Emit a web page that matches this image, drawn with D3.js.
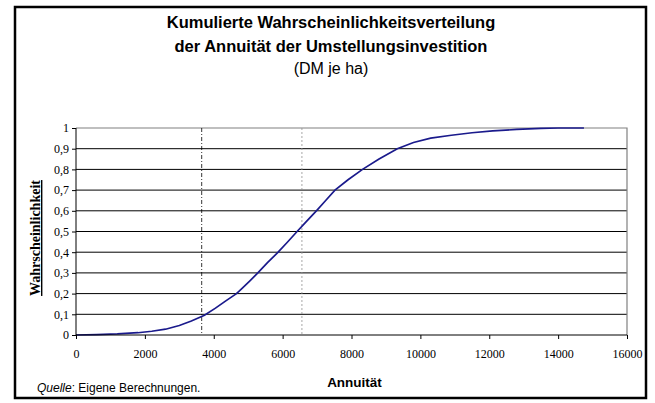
<!DOCTYPE html>
<html>
<head>
<meta charset="utf-8">
<script src="https://cdn.jsdelivr.net/npm/d3@7"></script>
<style>
  body { margin: 0; background: #fff; }
  text { fill: #000; }
</style>
</head>
<body>
<svg width="655" height="403"></svg>
<script>
var annuitaet = [0, 600, 1200, 1800, 2200, 2600, 3000, 3350, 3730, 4050, 4350, 4660, 4800, 5050, 5280,
  5560, 5870, 6130, 6420, 6700, 6980, 7250, 7520, 7900, 8320, 8800, 9330, 9800, 10300, 10900,
  11500, 12100, 12800, 13500, 14000, 14750];
var wahrscheinlichkeit = [0, 0.002, 0.005, 0.011, 0.018, 0.028, 0.046, 0.068, 0.095, 0.13, 0.165, 0.2, 0.222, 0.262, 0.3,
  0.35, 0.4, 0.447, 0.5, 0.55, 0.6, 0.65, 0.7, 0.75, 0.8, 0.85, 0.9, 0.93, 0.951, 0.965,
  0.977, 0.986, 0.993, 0.998, 1.0, 1.0];
var xTickValues = [0, 2000, 4000, 6000, 8000, 10000, 12000, 14000, 16000];
var yTickValues = [0, 0.1, 0.2, 0.3, 0.4, 0.5, 0.6, 0.7, 0.8, 0.9, 1];
var yTickLabels = ["0", "0,1", "0,2", "0,3", "0,4", "0,5", "0,6", "0,7", "0,8", "0,9", "1"];
var markerLines = [3650, 6560];

var svg = d3.select("svg");

var x = d3.scaleLinear().domain([0, 16000]).range([76, 627]);
var y = d3.scaleLinear().domain([0, 1]).range([335, 128]);

// outer frame
svg.append("rect")
    .attr("x", 15).attr("y", 7)
    .attr("width", 631).attr("height", 391)
    .attr("fill", "#fff")
    .attr("stroke", "#000")
    .attr("stroke-width", 2.5);

var title = svg.append("text")
    .attr("text-anchor", "middle")
    .attr("font-family", "Liberation Sans, Arial, sans-serif")
    .attr("font-size", 16.5);
title.append("tspan").attr("x", 331).attr("y", 28).attr("font-weight", "bold")
    .text("Kumulierte Wahrscheinlichkeitsverteilung");
title.append("tspan").attr("x", 331).attr("y", 52).attr("font-weight", "bold")
    .text("der Annuität der Umstellungsinvestition");
title.append("tspan").attr("x", 331).attr("y", 74).attr("font-size", 16)
    .text("(DM je ha)");

// grid
svg.append("g")
    .selectAll("line")
    .data(yTickValues.slice(1, -1))
    .enter().append("line")
      .attr("x1", x(0)).attr("x2", x(16000))
      .attr("y1", function(d) { return y(d); })
      .attr("y2", function(d) { return y(d); })
      .attr("stroke", "#000")
      .attr("stroke-width", 1);

// plot area border top / right
svg.append("path")
    .attr("d", "M" + x(0) + "," + y(1) + "H" + x(16000) + "V" + y(0))
    .attr("fill", "none")
    .attr("stroke", "#808080")
    .attr("stroke-width", 1.2);

svg.append("line")
    .attr("x1", x(markerLines[0])).attr("x2", x(markerLines[0]))
    .attr("y1", y(1)).attr("y2", y(0))
    .attr("stroke", "#000")
    .attr("stroke-width", 0.8)
    .attr("stroke-dasharray", "4,2,1,2");

svg.append("line")
    .attr("x1", x(markerLines[1])).attr("x2", x(markerLines[1]))
    .attr("y1", y(1)).attr("y2", y(0))
    .attr("stroke", "#909090")
    .attr("stroke-width", 0.8)
    .attr("stroke-dasharray", "2,2");

var line = d3.line()
    .x(function(d, i) { return x(annuitaet[i]); })
    .y(function(d) { return y(d); });

svg.append("path")
    .datum(wahrscheinlichkeit)
    .attr("fill", "none")
    .attr("stroke", "#1a1a8c")
    .attr("stroke-width", 1.7)
    .attr("d", line);

var xAxis = svg.append("g")
    .attr("transform", "translate(0," + y(0) + ")")
    .call(d3.axisBottom(x).tickValues(xTickValues).tickSize(4).tickPadding(10).tickFormat(d3.format("d")));
xAxis.select(".domain").attr("stroke", "#000").attr("d", "M" + x(0) + ",0H" + x(16000));
xAxis.selectAll("text")
    .attr("font-family", "Liberation Serif, Times New Roman, serif")
    .attr("font-size", 12);

var yAxis = svg.append("g")
    .attr("transform", "translate(" + x(0) + ",0)")
    .call(d3.axisLeft(y).tickValues(yTickValues).tickSize(4).tickPadding(3)
      .tickFormat(function(d, i) { return yTickLabels[i]; }));
yAxis.select(".domain").attr("stroke", "#000").attr("d", "M0," + y(0) + "V" + y(1));
yAxis.selectAll("text")
    .attr("font-family", "Liberation Serif, Times New Roman, serif")
    .attr("font-size", 12);

svg.append("text")
    .attr("transform", "translate(40,238) rotate(-90)")
    .attr("text-anchor", "middle")
    .attr("font-family", "Liberation Serif, Times New Roman, serif")
    .attr("font-weight", "bold")
    .attr("font-size", 14)
    .attr("text-decoration", "underline")
    .text("Wahrscheinlichkeit");

svg.append("text")
    .attr("x", x(8000) + 3).attr("y", 387)
    .attr("text-anchor", "middle")
    .attr("font-family", "Liberation Sans, Arial, sans-serif")
    .attr("font-weight", "bold")
    .attr("font-size", 13.5)
    .text("Annuität");

var quelle = svg.append("text")
    .attr("x", 37).attr("y", 392)
    .attr("font-family", "Liberation Sans, Arial, sans-serif")
    .attr("font-size", 12);
quelle.append("tspan").attr("font-style", "italic").text("Quelle");
quelle.append("tspan").text(": Eigene Berechnungen.");
</script>
</body>
</html>
